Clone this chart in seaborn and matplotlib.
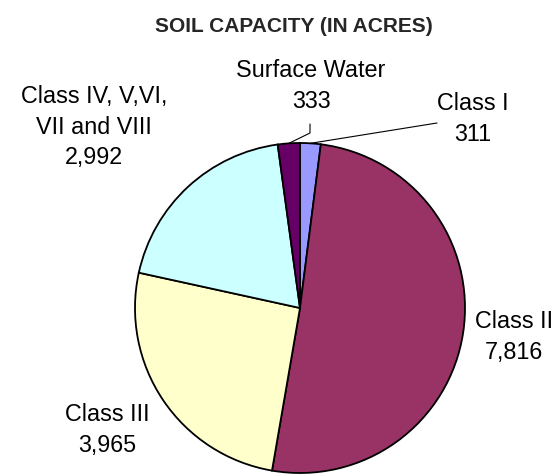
import numpy as np
import seaborn as sns
import matplotlib.pyplot as plt

# soil capacity data (acres)
classes = ["Class I", "Class II", "Class III", "Class IV, V,VI,\nVII and VIII", "Surface Water"]
acres = [311, 7816, 3965, 2992, 333]
colors = ["#9999FF", "#993366", "#FFFFCC", "#CCFFFF", "#660066"]

sns.set_theme(style="white")
plt.rcParams['font.family'] = ['Liberation Sans', 'DejaVu Sans']

W, H = 557, 475
fig = plt.figure(figsize=(W / 100, H / 100), dpi=100)
ax = fig.add_axes([0, 0, 1, 1])
ax.set_aspect('equal')
ax.axis('off')

cx, cy, r = 300, 308, 165
wedges, _ = ax.pie(acres, colors=colors, startangle=-90, counterclock=True,
                   center=(cx, cy), radius=r,
                   wedgeprops=dict(edgecolor='black', linewidth=1.3))
ax.set_xlim(0, W)
ax.set_ylim(H, 0)   # pixel coords, y down

# label positions (centre of text block, pixels)
label_pos = [(473, 119), (514, 337), (107, 430), (94, 127), (311, 86)]
for name, val, (lx, ly) in zip(classes, acres, label_pos):
    ax.text(lx, ly, f"{name}\n{val:,}", ha='center', va='center',
            fontsize=16.8, linespacing=1.4, color='black')

def arc_mid(w):
    # y axis is flipped, so angles run the other way on screen
    t = np.deg2rad((w.theta1 + w.theta2) / 2)
    return w.center[0] + w.r * np.cos(t), w.center[1] + w.r * np.sin(t)

# leader lines for the two thin slices
x1, y1 = arc_mid(wedges[0])
ax.plot([437, x1], [123, y1], color='black', lw=0.8)
x5, y5 = arc_mid(wedges[4])
ax.plot([310, 310, x5], [124, 133, y5], color='black', lw=0.8)

ax.text(294, 26, "SOIL CAPACITY (IN ACRES)", ha='center', va='center',
        fontsize=15, fontweight='bold')

fig.savefig("out.png", dpi=100)
